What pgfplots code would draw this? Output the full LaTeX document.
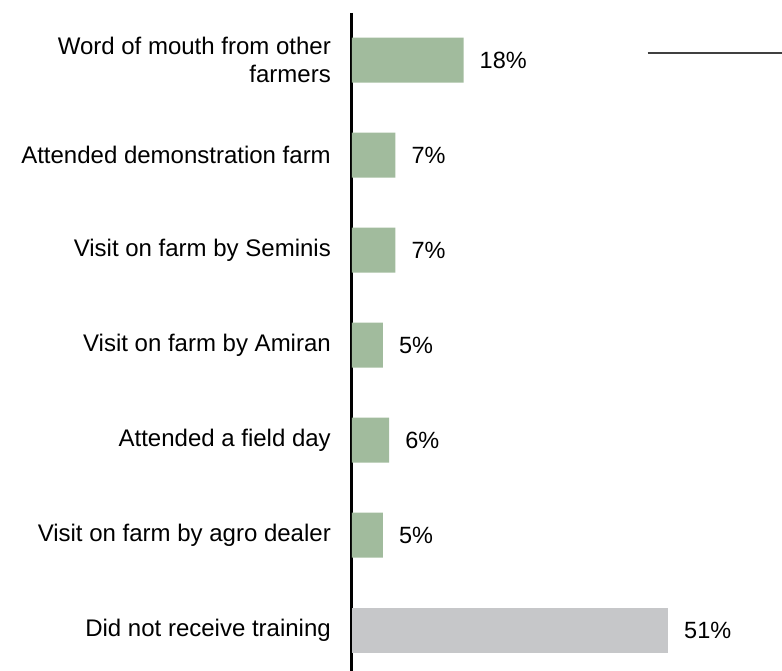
\documentclass[border=0pt]{standalone}
\usepackage{pgfplots}
\pgfplotsset{compat=1.18}
\usepackage{fontspec}
\setmainfont{Liberation Sans}
\definecolor{grn}{HTML}{A1BB9D}
\definecolor{gry}{HTML}{C6C7C9}
\begin{document}
\fontsize{24}{28}\selectfont
\begin{tikzpicture}
\begin{axis}[name=ax, xbar, scale only axis, width=430pt, height=658pt,
  xmin=0, xmax=69.4, ymin=-0.495, ymax=6.43, y dir=reverse,
  hide x axis, axis y line*=left,
  y axis line style={line width=3pt, black},
  ytick={0,1,2,3,4,5,6},
  yticklabels={{Word of mouth from other\\farmers},{Attended demonstration farm},{Visit on farm by Seminis},{Visit on farm by Amiran},{Attended a field day},{Visit on farm by agro dealer},{Did not receive training}},
  major tick length=0pt,
  yticklabel style={align=right, inner sep=0pt, xshift=-21pt, font=\fontsize{24}{28}\selectfont},
  bar width=45pt, bar shift=0pt,
  clip=false,
  /pgf/number format/assume math mode=true,
  point meta=x,
  nodes near coords={\pgfmathprintnumber{\pgfplotspointmeta}\%},
  nodes near coords style={anchor=west, inner sep=0pt, xshift=16pt, font=\fontsize{23.5}{28}\selectfont, black},
]
\addplot[fill=grn, draw=none] coordinates {(18,0) (7,1) (7,2) (5,3) (6,4) (5,5)};
\addplot[fill=gry, draw=none] coordinates {(51,6)};
\draw[line width=1.3pt, black!75] (axis cs:47.7,-0.074) -- (axis cs:69.4,-0.074);
\end{axis}
\pgfresetboundingbox
\path ([xshift=-352pt]ax.south west) rectangle ([yshift=13pt]ax.north east);
\end{tikzpicture}
\end{document}
